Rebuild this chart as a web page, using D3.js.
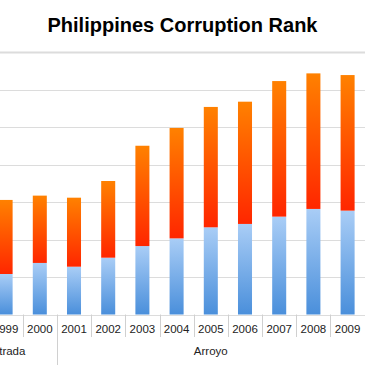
<!DOCTYPE html>
<html lang="en">
<meta charset="utf-8">
<style>
body { margin: 0; background: #fff; }
svg { display: block; font-family: "Liberation Sans", Arial, sans-serif; }
.grid line { stroke: #dcdcdc; stroke-width: 1; }
.sep { stroke: #d0d0d0; stroke-width: 1; }
.year { font-size: 11.5px; fill: #222; }
.group { font-size: 11.5px; fill: #222; }
.title { font-size: 20px; font-weight: bold; fill: #000; }
</style>
<body>
<svg width="365" height="365"></svg>
<script src="https://d3js.org/d3.v7.min.js"></script>
<script>

// values (grid step = 20); 1998 sits outside the crop
var years = ["1998", "1999", "2000", "2001", "2002", "2003", "2004", "2005", "2006", "2007", "2008", "2009"];
var lowerVals = [20, 21.6, 27.5, 25.5, 30.3, 36.5, 40.6, 46.5, 48.3, 52.2, 56.3, 55.4];
var upperVals = [38, 39.5, 35.9, 36.8, 40.9, 53.5, 58.9, 64.2, 65.2, 72.3, 72.3, 72.3];
var yTicks = [0, 20, 40, 60, 80, 100, 120, 140];

var groupNames = ["Estrada", "Arroyo"];
var groupFirst = ["1998", "2001"];
var groupLast = ["2000", "2009"];

var svg = d3.select("svg"),
    width = +svg.attr("width"),
    height = +svg.attr("height");

var x = d3.scaleBand()
    .domain(years)
    .range([-45.7, 364.7])
    .paddingInner(0.59)
    .paddingOuter(0.295);

var y = d3.scaleLinear()
    .domain([0, 140])
    .range([314.5, 52]);

var table = years.map(function(d, i) {
  return { year: d, lower: lowerVals[i], upper: upperVals[i] };
});

var stack = d3.stack().keys(["lower", "upper"]);
var series = stack(table);

var defs = svg.append("defs");

function grad(id, top, bottom) {
  var g = defs.append("linearGradient")
      .attr("id", id)
      .attr("x1", 0).attr("y1", 0)
      .attr("x2", 0).attr("y2", 1);
  g.append("stop").attr("offset", "0%").attr("stop-color", top);
  g.append("stop").attr("offset", "100%").attr("stop-color", bottom);
}
grad("g-lower", "#a9cdf6", "#4a8fdb");
grad("g-upper", "#ff8100", "#ff2600");

// gridlines
svg.append("g")
    .attr("class", "grid")
  .selectAll("line")
  .data(yTicks)
  .enter().append("line")
    .attr("x1", 0)
    .attr("x2", width)
    .attr("y1", function(d) { return Math.round(y(d)) + 0.5; })
    .attr("y2", function(d) { return Math.round(y(d)) + 0.5; })
    .style("stroke-width", function(d) { return d === 140 ? 2 : 1; });

// bars
svg.append("g")
  .selectAll("g")
  .data(series)
  .enter().append("g")
    .attr("fill", function(d) { return "url(#g-" + d.key + ")"; })
  .selectAll("rect")
  .data(function(d) { return d; })
  .enter().append("rect")
    .attr("x", function(d) { return x(d.data.year); })
    .attr("width", x.bandwidth())
    .attr("y", function(d) { return y(d[1]); })
    .attr("height", function(d) { return y(d[0]) - y(d[1]); });

// year row separators
var step = x.step();
var edges = years.map(function(d) { return x(d) - x.bandwidth() * 0 - (step - x.bandwidth()) / 2; });
edges.push(edges[edges.length - 1] + step);

svg.append("g")
  .selectAll("line")
  .data(edges)
  .enter().append("line")
    .attr("class", "sep")
    .attr("x1", function(d) { return Math.round(d) + 0.5; })
    .attr("x2", function(d) { return Math.round(d) + 0.5; })
    .attr("y1", y(0))
    .attr("y2", function(d, i) {
      var yr = years[i];
      return groupFirst.indexOf(yr) >= 0 || i === years.length ? height : 337;
    });

svg.append("g")
  .selectAll("text")
  .data(years)
  .enter().append("text")
    .attr("class", "year")
    .attr("x", function(d) { return x(d) + x.bandwidth() / 2; })
    .attr("y", 333)
    .attr("text-anchor", "middle")
    .text(function(d) { return d; });

// president groups
svg.append("g")
  .selectAll("text")
  .data(groupNames)
  .enter().append("text")
    .attr("class", "group")
    .attr("x", function(d, i) {
      var a = x(groupFirst[i]) - (step - x.bandwidth()) / 2;
      var b = x(groupLast[i]) + x.bandwidth() + (step - x.bandwidth()) / 2;
      return (a + b) / 2;
    })
    .attr("y", 355)
    .attr("text-anchor", "middle")
    .text(function(d) { return d; });

svg.append("text")
    .attr("class", "title")
    .attr("x", 182.5)
    .attr("y", 32)
    .attr("text-anchor", "middle")
    .text("Philippines Corruption Rank");

</script>
</body>
</html>
